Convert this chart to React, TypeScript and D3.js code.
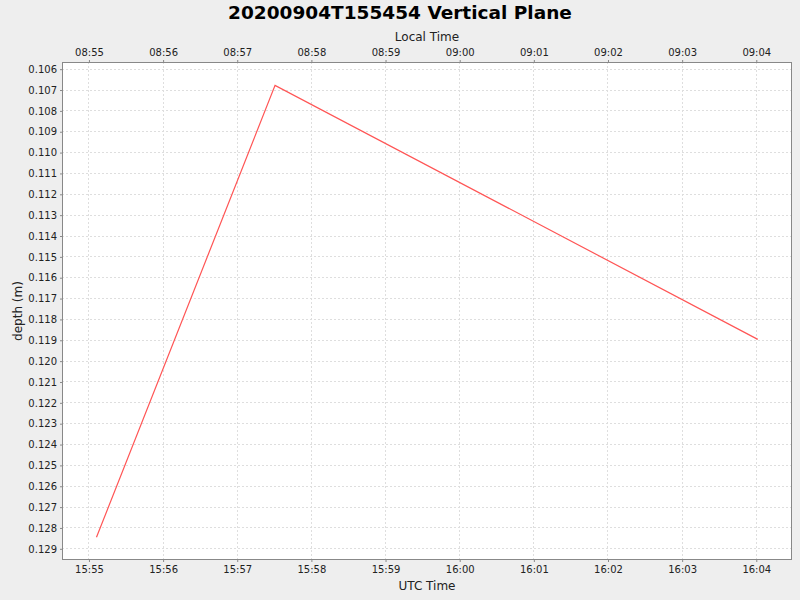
import { useEffect, useRef } from "react";
import * as d3 from "d3";

// Sample times (UTC) and depths
const sampleTimes = ["2020-09-04T15:55:06.5Z", "2020-09-04T15:57:31Z", "2020-09-04T16:04:01.6Z"];
const sampleDepths = [0.12847, 0.1068, 0.11898];

// Axis ranges
const timeDomain = ["2020-09-04T15:54:38.6Z", "2020-09-04T16:04:29.3Z"];
const depthDomain = [0.10568, 0.12956];
const depthTicks = d3.range(106, 130).map((v) => v / 1000);
const localOffsetHours = -7;

const title = "20200904T155454 Vertical Plane";

export default function App() {
  const svgRef = useRef<SVGSVGElement>(null);

  useEffect(() => {
    if (!svgRef.current) return;
    const svg = d3.select(svgRef.current);
    svg.selectAll("*").remove();

    const width = 800;
    const height = 600;
    const margin = { top: 62, right: 8, bottom: 40, left: 62 };
    const font = "'DejaVu Sans', sans-serif";

    svg.append("rect").attr("width", width).attr("height", height).attr("fill", "#eeeeee");

    const x = d3
      .scaleUtc()
      .domain(timeDomain.map((d) => new Date(d)))
      .range([margin.left, width - margin.right]);

    const shift = localOffsetHours * 3600 * 1000;
    const xLocal = d3
      .scaleUtc()
      .domain(timeDomain.map((d) => new Date(new Date(d).getTime() + shift)))
      .range([margin.left, width - margin.right]);

    const y = d3
      .scaleLinear()
      .domain(depthDomain)
      .range([margin.top, height - margin.bottom]);

    const minuteTicks = d3.utcMinute.every(1)!.range(x.domain()[0], x.domain()[1]);
    const localTicks = d3.utcMinute.every(1)!.range(xLocal.domain()[0], xLocal.domain()[1]);

    // plot background
    svg
      .append("rect")
      .attr("x", margin.left)
      .attr("y", margin.top)
      .attr("width", width - margin.left - margin.right)
      .attr("height", height - margin.top - margin.bottom)
      .attr("fill", "#ffffff");

    // gridlines
    const grid = svg.append("g").attr("stroke", "#dedede").attr("stroke-dasharray", "2,2").attr("stroke-width", 1);
    minuteTicks.forEach((t) => {
      const px = Math.round(x(t)) + 0.5;
      grid.append("line").attr("x1", px).attr("x2", px).attr("y1", margin.top).attr("y2", height - margin.bottom);
    });
    depthTicks.forEach((d) => {
      const py = Math.round(y(d)) + 0.5;
      grid.append("line").attr("x1", margin.left).attr("x2", width - margin.right).attr("y1", py).attr("y2", py);
    });

    // series
    const points = sampleTimes.map((t, i) => ({ t: new Date(t), d: sampleDepths[i] }));
    const line = d3
      .line<{ t: Date; d: number }>()
      .x((p) => x(p.t))
      .y((p) => y(p.d));
    svg
      .append("path")
      .datum(points)
      .attr("d", line)
      .attr("fill", "none")
      .attr("stroke", "#ff5555")
      .attr("stroke-width", 1.2);

    // plot outline
    svg
      .append("rect")
      .attr("x", margin.left + 0.5)
      .attr("y", margin.top + 0.5)
      .attr("width", width - margin.left - margin.right - 1)
      .attr("height", height - margin.top - margin.bottom - 1)
      .attr("fill", "none")
      .attr("stroke", "#888888");

    const styleAxis = (g: d3.Selection<SVGGElement, unknown, null, undefined>) => {
      g.select(".domain").remove();
      g.selectAll(".tick line").attr("stroke", "#888888");
      g.selectAll(".tick text").attr("fill", "#222222").style("font-size", "10px").style("font-family", font);
    };

    // bottom axis
    svg
      .append("g")
      .attr("transform", `translate(0.5, ${height - margin.bottom})`)
      .call(d3.axisBottom(x).tickValues(minuteTicks).tickFormat(d3.utcFormat("%H:%M") as any).tickSize(2).tickPadding(4))
      .call(styleAxis);

    // top axis (local time)
    svg
      .append("g")
      .attr("transform", `translate(0.5, ${margin.top})`)
      .call(d3.axisTop(xLocal).tickValues(localTicks).tickFormat(d3.utcFormat("%H:%M") as any).tickSize(2).tickPadding(4))
      .call(styleAxis);

    // left axis
    svg
      .append("g")
      .attr("transform", `translate(${margin.left}, 0.5)`)
      .call(d3.axisLeft(y).tickValues(depthTicks).tickFormat(d3.format(".3f")).tickSize(2).tickPadding(3))
      .call(styleAxis);

    // labels
    svg
      .append("text")
      .attr("x", width / 2)
      .attr("y", 19)
      .attr("text-anchor", "middle")
      .style("font-family", font)
      .style("font-size", "18.5px")
      .style("font-weight", "bold")
      .attr("fill", "#000000")
      .text(title);

    svg
      .append("text")
      .attr("x", (margin.left + width - margin.right) / 2)
      .attr("y", 41)
      .attr("text-anchor", "middle")
      .style("font-family", font)
      .style("font-size", "12px")
      .attr("fill", "#222222")
      .text("Local Time");

    svg
      .append("text")
      .attr("x", (margin.left + width - margin.right) / 2)
      .attr("y", 590)
      .attr("text-anchor", "middle")
      .style("font-family", font)
      .style("font-size", "12px")
      .attr("fill", "#222222")
      .text("UTC Time");

    svg
      .append("text")
      .attr("transform", `translate(22, ${(margin.top + height - margin.bottom) / 2}) rotate(-90)`)
      .attr("text-anchor", "middle")
      .style("font-family", font)
      .style("font-size", "12px")
      .attr("fill", "#222222")
      .text("depth (m)");
  }, []);

  return (
    <svg
      ref={svgRef}
      width={800}
      height={600}
      style={{ position: "absolute", left: 0, top: 0 }}
    />
  );
}
